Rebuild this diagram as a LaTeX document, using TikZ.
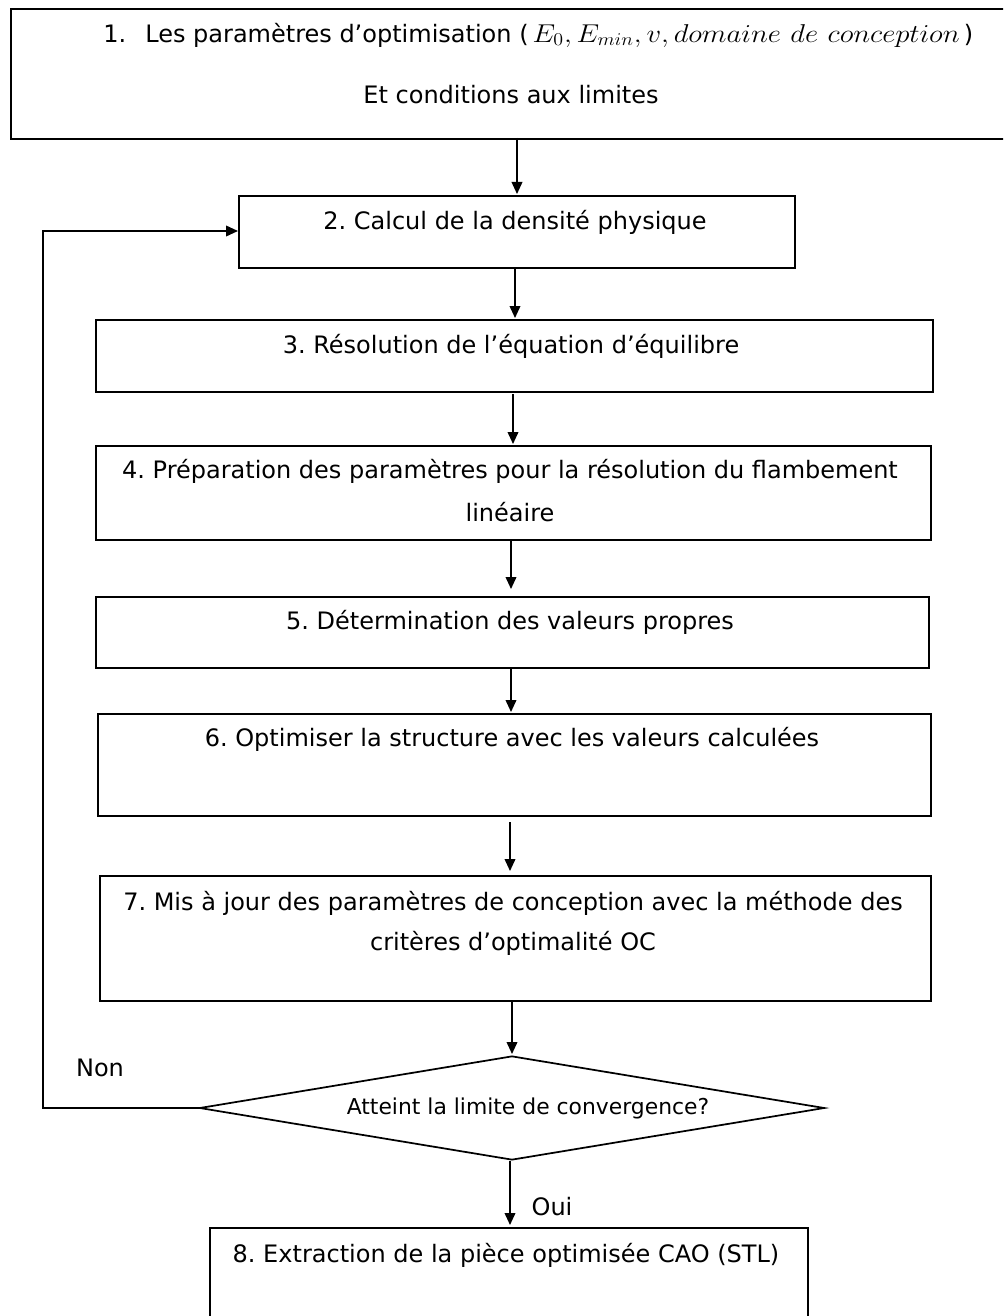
\documentclass[tikz,border=0pt]{standalone}
\usepackage{fontspec}
\setmainfont{DejaVu Sans}
\usetikzlibrary{arrows.meta,shapes.geometric}
\begin{document}
\frenchspacing
\begin{tikzpicture}[x=0.75pt,y=-0.75pt,
  box/.style={draw,line width=1.3pt,rectangle,inner sep=0pt,anchor=north west},
  txt/.style={inner sep=0pt,font=\fontsize{18}{21}\selectfont},
  small/.style={inner sep=0pt,font=\fontsize{16.4}{19}\selectfont},
  arr/.style={line width=1.2pt,-{Triangle[length=9pt,width=8pt]}}]
\clip (0,0) rectangle (1003,1316);
\fill[white] (0,0) rectangle (1003,1316);
% boxes
\node[box,minimum width=1005*0.75pt,minimum height=130*0.75pt] (b1) at (10,8) {};
\node[box,minimum width=556*0.75pt,minimum height=72*0.75pt] (b2) at (238,195) {};
\node[box,minimum width=837*0.75pt,minimum height=72*0.75pt] (b3) at (95,319) {};
\node[box,minimum width=835*0.75pt,minimum height=94*0.75pt] (b4) at (95,445) {};
\node[box,minimum width=833*0.75pt,minimum height=71*0.75pt] (b5) at (95,596) {};
\node[box,minimum width=833*0.75pt,minimum height=102*0.75pt] (b6) at (97,713) {};
\node[box,minimum width=831*0.75pt,minimum height=125*0.75pt] (b7) at (99,875) {};
\node[box,minimum width=598*0.75pt,minimum height=120*0.75pt] (b8) at (209,1227) {};
\node[draw,line width=1.3pt,shape=diamond,inner sep=0pt,minimum width=625*0.75pt,minimum height=104*0.75pt] (d) at (512,1108) {};
% texts
\node[txt,anchor=west] (t1a) at (103,35) {1.\hspace{0.8em}Les paramètres d’optimisation (\,\scalebox{1.25}[1.12]{$E_0,E_{min},v,domaine\ de\ conception$}\,)};
\node[txt] (t1b) at (511,95) {Et conditions aux limites};
\node[txt] (t2) at (515,222) {2. Calcul de la densité physique};
\node[txt] (t3) at (511,346) {3. Résolution de l’équation d’équilibre};
\node[txt] (t4a) at (510,471) {4. Préparation des paramètres pour la résolution du flambement};
\node[txt] (t4b) at (510,512) {linéaire};
\node[txt] (t5) at (510,622) {5. Détermination des valeurs propres};
\node[txt] (t6) at (512,739) {6. Optimiser la structure avec les valeurs calculées};
\node[txt] (t7a) at (513,903) {7. Mis à jour des paramètres de conception avec la méthode des};
\node[txt] (t7b) at (513,943) {critères d’optimalité OC};
\node[small] (td) at (528,1108) {Atteint la limite de convergence?};
\node[txt] (t8) at (506,1255) {8. Extraction de la pièce optimisée CAO (STL)};
\node[txt] (non) at (100,1068) {Non};
\node[txt] (oui) at (552,1207) {Oui};
% connectors
\coordinate (a1s) at (517,138); \coordinate (a1e) at (517,194);
\coordinate (a2s) at (515,267); \coordinate (a2e) at (515,318);
\coordinate (a3s) at (513,394); \coordinate (a3e) at (513,444);
\coordinate (a4s) at (511,539); \coordinate (a4e) at (511,589);
\coordinate (a5s) at (511,667); \coordinate (a5e) at (511,712);
\coordinate (a6s) at (510,822); \coordinate (a6e) at (510,871);
\coordinate (a7s) at (512,1001); \coordinate (a7e) at (512,1054);
\coordinate (a8e) at (510,1225);
\draw[arr] (a1s) -- (a1e);
\draw[arr] (a2s) -- (a2e);
\draw[arr] (a3s) -- (a3e);
\draw[arr] (a4s) -- (a4e);
\draw[arr] (a5s) -- (a5e);
\draw[arr] (a6s) -- (a6e);
\draw[arr] (a7s) -- (a7e);
\draw[arr] (d.south) ++(-2,0) -- (a8e);
\coordinate (lp1) at (43,1108);
\coordinate (lp2) at (43,231);
\draw[arr] (d.west) -- (lp1) -- (lp2) -- (b2.west|-lp2);
\end{tikzpicture}
\end{document}
